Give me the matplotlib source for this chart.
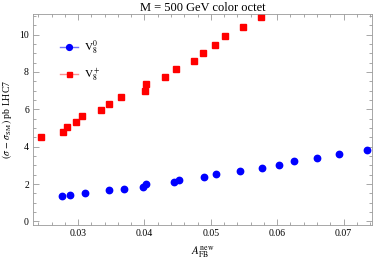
"""Cross-section shift against new-physics forward-backward asymmetry, M = 500 GeV octet."""

import matplotlib

matplotlib.use("Agg")
import matplotlib.pyplot as plt
from matplotlib.ticker import MultipleLocator

# V8^0 points (blue circles)
afb_v80 = [0.02755, 0.02884, 0.03105, 0.03465, 0.03690, 0.03975, 0.04016, 0.04441,
           0.04527, 0.04891, 0.05071, 0.05436, 0.05777, 0.06032, 0.06253, 0.06598,
           0.06933, 0.07358]
dsigma_v80 = [1.36, 1.43, 1.55, 1.66, 1.75, 1.86, 1.98, 2.10, 2.23, 2.39, 2.53, 2.69,
              2.85, 3.02, 3.21, 3.39, 3.59, 3.80]

# V8^+ points (red squares)
afb_v8p = [0.02434, 0.02775, 0.02835, 0.02965, 0.03065, 0.03350, 0.03461, 0.03645,
           0.04010, 0.04025, 0.04316, 0.04476, 0.04746, 0.04881, 0.05061, 0.05211,
           0.05481, 0.05762]
dsigma_v8p = [4.52, 4.78, 5.05, 5.34, 5.64, 5.96, 6.28, 6.64, 6.98, 7.35, 7.73, 8.14,
              8.57, 9.00, 9.46, 9.93, 10.42, 10.93]

plt.rcParams["font.family"] = ["Liberation Serif", "DejaVu Serif"]
plt.rcParams["mathtext.fontset"] = "stix"

fig = plt.figure(figsize=(3.76, 2.58), dpi=100)
ax = fig.add_axes([0.088, 0.127, 0.901, 0.819])

ax.plot(afb_v80, dsigma_v80, linestyle="none", marker="o", markersize=4.6,
        color="#0000ff")
ax.plot(afb_v8p, dsigma_v8p, linestyle="none", marker="s", markersize=4.0,
        color="#ff0000")

# legend entries drawn like Mathematica's: faint line with a marker on it
legend_handles = [
    plt.Line2D([], [], color="#7070ff", lw=1.0, marker="o", markersize=4.2,
               markerfacecolor="#0000ff", markeredgecolor="#0000ff"),
    plt.Line2D([], [], color="#ff9090", lw=1.0, marker="s", markersize=3.6,
               markerfacecolor="#ff0000", markeredgecolor="#ff0000"),
]
ax.legend(legend_handles, [r"$\mathrm{V}_8^0$", r"$\mathrm{V}_8^+$"],
          loc="upper left", bbox_to_anchor=(0.05, 0.93), frameon=False,
          fontsize=8, handlelength=1.6, labelspacing=0.9, handletextpad=0.6)

ax.set_xlim(0.02322, 0.07426)
ax.set_ylim(-0.2, 11.1)
ax.xaxis.set_major_locator(MultipleLocator(0.01))
ax.xaxis.set_minor_locator(MultipleLocator(0.002))
ax.yaxis.set_major_locator(MultipleLocator(2))
ax.yaxis.set_minor_locator(MultipleLocator(0.5))
ax.xaxis.set_major_formatter(plt.FuncFormatter(lambda v, _: f"{v:.2f}"))

ax.tick_params(which="both", direction="in", top=True, right=True,
               labelsize=7, color="#999999", width=0.6, pad=3)
ax.tick_params(which="major", length=4)
ax.tick_params(which="minor", length=2)
for spine in ax.spines.values():
    spine.set_color("#999999")
    spine.set_linewidth(0.6)

ax.set_title("M = 500 GeV color octet", fontsize=9, pad=2)
ax.set_xlabel(r"$A_{\mathrm{FB}}^{\mathrm{new}}$", fontsize=8, labelpad=4)
ax.set_ylabel(r"$(\sigma\,-\,\sigma_{\mathrm{SM}})$ pb LHC7", fontsize=7, labelpad=4)

fig.savefig("out.png", dpi=100)
